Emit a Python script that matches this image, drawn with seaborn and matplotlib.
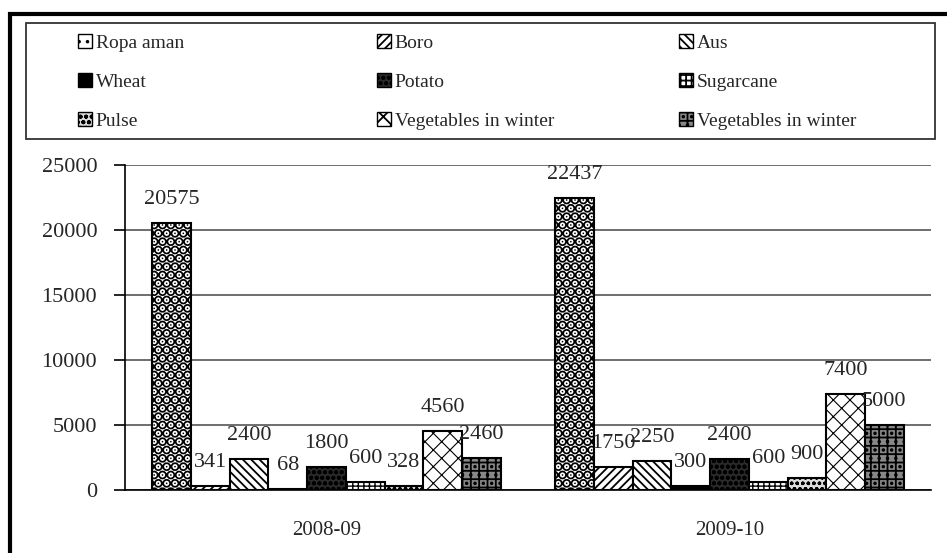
import pandas as pd
import matplotlib.pyplot as plt
import matplotlib.patches as mpatches
import seaborn as sns

# --- data ---
years = ['2008-09', '2009-10']
crops = ['Ropa aman', 'Boro', 'Aus', 'Wheat', 'Potato', 'Sugarcane',
         'Pulse', 'Vegetables in winter', 'Vegetables in winter']
values_2008 = [20575, 341, 2400, 68, 1800, 600, 328, 4560, 2460]
values_2009 = [22437, 1750, 2250, 300, 2400, 600, 900, 7400, 5000]
y_ticks = [0, 5000, 10000, 15000, 20000, 25000]

# hatch / fill per crop (black & white print style)
hatches = ['..', '////', '\\\\\\\\', '', 'ooo', '+++', 'ooo', 'xx', '++..']
faces = ['white', 'white', 'white', 'black', '#2a2a2a', 'white', '#dddddd', 'white', '#888888']
hatch_lw = [5.0, 1.3, 1.3, 1.3, 1.3, 1.0, 1.0, 0.8, 1.3]

# long table, hue key kept unique because two crops share a name
rows = []
for i, c in enumerate(crops):
    rows.append({'year': years[0], 'key': str(i), 'value': values_2008[i]})
    rows.append({'year': years[1], 'key': str(i), 'value': values_2009[i]})
df = pd.DataFrame(rows)
keys = [str(i) for i in range(len(crops))]

sns.set_style('white')
plt.rcParams['font.family'] = ['Liberation Serif', 'DejaVu Serif']
plt.rcParams['hatch.linewidth'] = 1.3

fig = plt.figure(figsize=(9.47, 5.53), dpi=100)
ax = fig.add_axes([125 / 947, 1 - 490 / 553, (931 - 125) / 947, (490 - 165) / 553])

sns.barplot(data=df, x='year', y='value', hue='key', hue_order=keys,
            order=years, width=0.865, gap=0, dodge=True, legend=False,
            edgecolor='black', linewidth=1.5, ax=ax)

for i, cont in enumerate(ax.containers):
    for p in cont.patches:
        p.set_facecolor(faces[i])
        p.set_hatch(hatches[i])
        p.set_edgecolor('black')
        if hasattr(p, 'set_hatch_linewidth'):
            p.set_hatch_linewidth(hatch_lw[i])
    ax.bar_label(cont, labels=[str(v) for v in (values_2008[i], values_2009[i])],
                 padding=10, fontsize=16)

# --- axes styling ---
ax.set_ylim(0, 25000)
ax.set_yticks(y_ticks)
ax.set_yticklabels([str(t) for t in y_ticks], fontsize=16)
ax.set_xlim(-0.5, 1.5)
ax.set_xticks([-0.5, 0.5, 1.5], minor=True)
ax.tick_params(axis='x', which='minor', length=8, width=1.2, color='black', direction='out')
ax.tick_params(axis='x', which='major', length=0, pad=22, labelsize=15)
ax.tick_params(axis='y', length=8, width=1.2, color='black', direction='out', pad=12, left=True)
ax.set_xlabel('')
ax.set_ylabel('')
ax.yaxis.grid(True, color='#555555', linewidth=1.2)
ax.set_axisbelow(True)
for s in ['top', 'right']:
    ax.spines[s].set_visible(False)
for s in ['left', 'bottom']:
    ax.spines[s].set_color('black')
    ax.spines[s].set_linewidth(1.2)

# --- legend: 3 columns, filled row by row, inside one box ---
handles = [mpatches.Patch(facecolor=faces[i], hatch=hatches[i], edgecolor='black',
                          linewidth=1.0) for i in range(len(crops))]
col_x = [78, 377, 679]
for c in range(3):
    idx = [c, c + 3, c + 6]
    fig.legend([handles[i] for i in idx], [crops[i] for i in idx],
               loc='upper left', bbox_to_anchor=(col_x[c] / 947, 1 - 34 / 553),
               fontsize=14, frameon=False,
               handlelength=0.7, handleheight=0.7, handletextpad=0.2,
               labelspacing=1.1, borderaxespad=0, borderpad=0)

# legend box
fig.patches.append(mpatches.Rectangle((26 / 947, 1 - 139 / 553), (935 - 26) / 947, (139 - 23) / 553,
                                      transform=fig.transFigure, fill=False,
                                      edgecolor='#333333', linewidth=1.3))
# outer border of the figure
fig.patches.append(mpatches.Rectangle((10 / 947, -0.1), 1.2, 1 - 14 / 553 + 0.1,
                                      transform=fig.transFigure, fill=False,
                                      edgecolor='black', linewidth=3))

plt.savefig('out.png', dpi=100)
